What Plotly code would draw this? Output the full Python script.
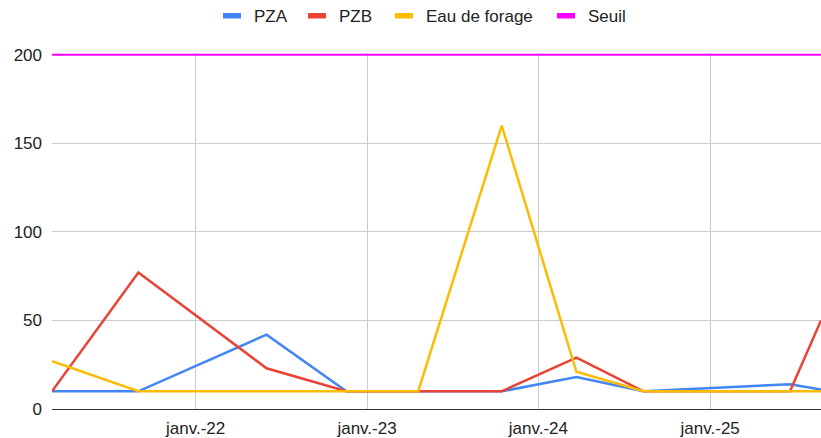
import plotly.graph_objects as go

dates = ["2021-03-01", "2021-09-01", "2022-06-01", "2022-11-18", "2023-04-20",
         "2023-10-15", "2024-03-22", "2024-08-12", "2025-06-20", "2025-08-25"]
pza = [10, 10, 42, 10, 10, 10, 18, 10, 14, 11]
pzb = [10, 77, 23, 10, 10, 10, 29, 10, 10, 50]
eau = [27, 10, 10, 10, 10, 160, 21, 10, 10, 10]
seuil = [200] * len(dates)

tick_vals = ["2022-01-01", "2023-01-01", "2024-01-01", "2025-01-01"]
tick_text = ["janv.-22", "janv.-23", "janv.-24", "janv.-25"]
y_ticks = [0, 50, 100, 150, 200]

names = ["PZA", "PZB", "Eau de forage", "Seuil"]
colors = ["#4285F4", "#EA4335", "#FBBC04", "#FF00FF"]
values = [pza, pzb, eau, seuil]
widths = [2.5, 2.5, 2.5, 2]

# layout geometry (pixels)
W, H = 821, 438
L, R, T, B = 52, 0, 53, 29
PW, PH = W - L - R, H - T - B
legend_sym_px = [223, 308, 395, 557]   # left edge of each legend swatch
FONT = "Liberation Sans, Arial, sans-serif"

fig = go.Figure()
for name, vals, color, w in zip(names, values, colors, widths):
    fig.add_trace(go.Scatter(x=dates, y=vals, name=name, mode="lines",
                             line=dict(color=color, width=w), showlegend=False))

def px2paper_x(px):
    return (px - L) / PW

def px2paper_y(py):
    return (H - B - py) / PH

shapes, annots = [], []
for name, color, sx in zip(names, colors, legend_sym_px):
    shapes.append(dict(type="rect", xref="paper", yref="paper",
                       x0=px2paper_x(sx), x1=px2paper_x(sx + 18),
                       y0=px2paper_y(18.5), y1=px2paper_y(13),
                       fillcolor=color, line=dict(width=0), layer="above"))
    annots.append(dict(text=name, xref="paper", yref="paper",
                       x=px2paper_x(sx + 29), y=px2paper_y(17),
                       xanchor="left", yanchor="middle", showarrow=False,
                       font=dict(family=FONT, size=17, color="#222222")))

fig.update_layout(
    width=W, height=H,
    margin=dict(l=L, r=R, t=T, b=B, autoexpand=False),
    paper_bgcolor="white", plot_bgcolor="white",
    font=dict(family=FONT, size=17, color="#222222"),
    showlegend=False,
    shapes=shapes, annotations=annots,
    xaxis=dict(type="date", range=[dates[0], dates[-1]], tickvals=tick_vals,
               ticktext=tick_text, showgrid=True, gridcolor="#cccccc", gridwidth=1,
               showline=True, linecolor="#333333", linewidth=1, ticks="",
               zeroline=False, ticklabelstandoff=4),
    yaxis=dict(range=[0, 201], tickvals=y_ticks, showgrid=True,
               gridcolor="#cccccc", gridwidth=1, zeroline=False, ticks="",
               ticklabelstandoff=9),
)

fig.write_html("out.html", config={"displayModeBar": False},
               post_script="document.body.style.margin='0';document.body.style.padding='0';")
